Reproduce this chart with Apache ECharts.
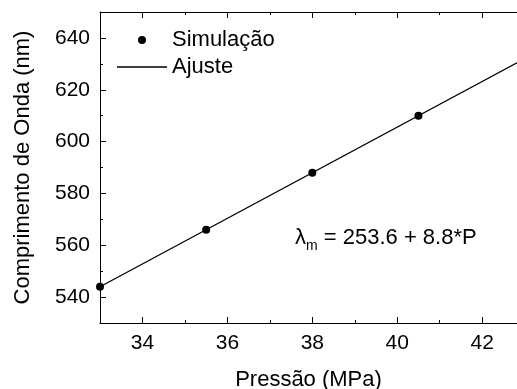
<!DOCTYPE html>
<html>
<head>
<meta charset="utf-8">
<script src="https://cdn.jsdelivr.net/npm/echarts@6/dist/echarts.min.js"></script>
<style>html,body{margin:0;padding:0;background:#fff;}#c{width:517px;height:389px;}</style>
</head>
<body>
<div id="c"></div>
<script>
var simX = [33, 35.5, 38, 40.5];
var simY = [544, 566, 588, 610];
var fitX = [33, 42.82];
var fitY = [544.0, 630.4];
var xMajor = [34, 36, 38, 40, 42];
var xMinor = [35, 37, 39, 41];
var yMajor = [540, 560, 580, 600, 620, 640];
var yMinor = [550, 570, 590, 610, 630];
var xRange = [33, 42.82];
var yRange = [530, 650];

var FONT = 'Liberation Sans, Arial, sans-serif';
var chart = echarts.init(document.getElementById('c'));

function xAx(pos, vals, len, labels, line, name) {
  return {
    type: 'value', position: pos, min: xRange[0], max: xRange[1],
    name: name || '', nameLocation: 'middle', nameGap: 46,
    nameTextStyle: {fontSize: 22, color: '#000', fontFamily: FONT},
    axisLine: {show: line, onZero: false, lineStyle: {color: '#000', width: 1}},
    axisTick: {show: true, inside: true, length: len, customValues: vals, lineStyle: {color: '#000', width: 1}},
    axisLabel: {show: labels, customValues: vals, margin: 10, fontSize: 21, color: '#000', fontFamily: FONT},
    splitLine: {show: false}
  };
}
function yAx(pos, vals, len, labels, line, name) {
  return {
    type: 'value', position: pos, min: yRange[0], max: yRange[1],
    name: name || '', nameLocation: 'middle', nameGap: 66,
    nameTextStyle: {fontSize: 22, color: '#000', fontFamily: FONT},
    axisLine: {show: line, onZero: false, lineStyle: {color: '#000', width: 1}},
    axisTick: {show: true, inside: true, length: len, customValues: vals, lineStyle: {color: '#000', width: 1}},
    axisLabel: {show: labels, customValues: vals, margin: 10, fontSize: 21, color: '#000', fontFamily: FONT},
    splitLine: {show: false}
  };
}

chart.setOption({
  animation: false,
  backgroundColor: '#fff',
  grid: {left: 100, top: 12, right: 0, bottom: 66, outerBoundsMode: 'none', containLabel: false},
  xAxis: [
    xAx('bottom', xMajor, 6, true, true, 'Pressão (MPa)'),
    xAx('bottom', xMinor, 3, false, false),
    xAx('top', xMajor, 6, false, true),
    xAx('top', xMinor, 3, false, false)
  ],
  yAxis: [
    yAx('left', yMajor, 6, true, true, 'Comprimento de Onda (nm)'),
    yAx('left', yMinor, 3, false, false)
  ],
  legend: {
    orient: 'vertical', left: 112, top: 24, itemWidth: 50, itemHeight: 8, itemGap: 5,
    symbolKeepAspect: true,
    textStyle: {fontSize: 22, color: '#000', fontFamily: FONT},
    data: [
      {name: 'Simulação', icon: 'circle'},
      {name: 'Ajuste', icon: 'path://M0,0L50,0L50,1.3L0,1.3Z'}
    ]
  },
  series: [
    {
      name: 'Ajuste', type: 'line', symbol: 'none',
      data: fitX.map(function (x, i) { return [x, fitY[i]]; }),
      lineStyle: {color: '#000', width: 1.3}, itemStyle: {color: '#000'}, z: 2
    },
    {
      name: 'Simulação', type: 'scatter', symbol: 'circle', symbolSize: 8,
      data: simX.map(function (x, i) { return [x, simY[i]]; }),
      itemStyle: {color: '#000', opacity: 1}, z: 3, clip: false
    }
  ],
  graphic: [{
    type: 'text', left: 295, top: 227,
    style: {
      text: '{a|λ}{b|m}{a| = 253.6 + 8.8*P}',
      rich: {
        a: {fontSize: 22, fontFamily: FONT, fill: '#000', lineHeight: 30, verticalAlign: 'middle'},
        b: {fontSize: 14, fontFamily: FONT, fill: '#000', lineHeight: 30, verticalAlign: 'bottom'}
      }
    }
  }]
});
</script>
</body>
</html>
